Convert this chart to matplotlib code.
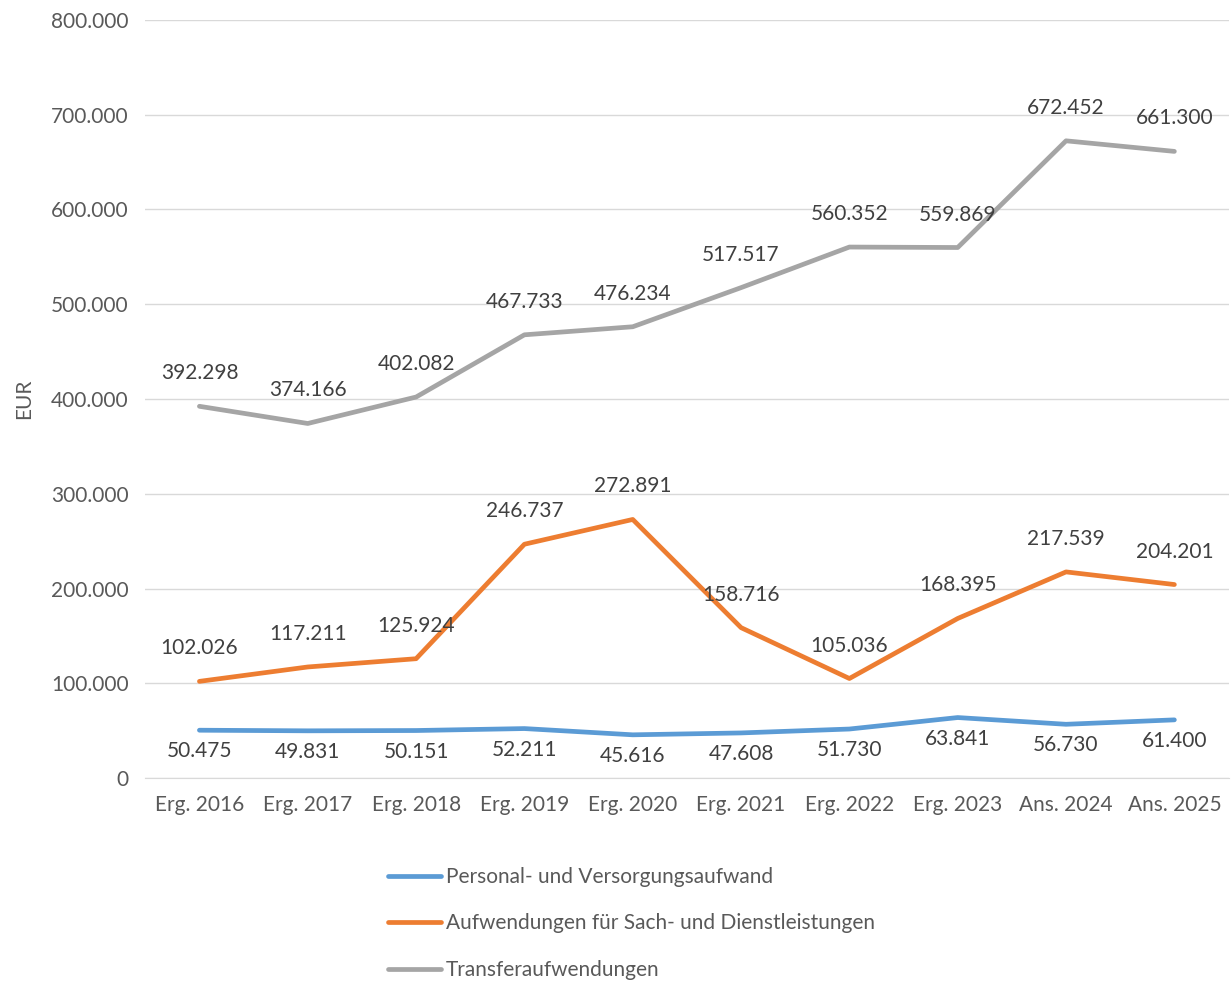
import matplotlib
matplotlib.use("Agg")
import matplotlib.pyplot as plt
from matplotlib.ticker import FuncFormatter

plt.rcParams['font.family'] = ['Lato', 'DejaVu Sans']

# Daten
kategorien = ['Erg. 2016', 'Erg. 2017', 'Erg. 2018', 'Erg. 2019', 'Erg. 2020',
              'Erg. 2021', 'Erg. 2022', 'Erg. 2023', 'Ans. 2024', 'Ans. 2025']
personal = [50475, 49831, 50151, 52211, 45616, 47608, 51730, 63841, 56730, 61400]
sach = [102026, 117211, 125924, 246737, 272891, 158716, 105036, 168395, 217539, 204201]
transfer = [392298, 374166, 402082, 467733, 476234, 517517, 560352, 559869, 672452, 661300]

namen = ['Personal- und Versorgungsaufwand',
         'Aufwendungen für Sach- und Dienstleistungen',
         'Transferaufwendungen']
farben = ['#5b9bd5', '#ed7d31', '#a5a5a5']


def fmt(v):
    return f'{v:,.0f}'.replace(',', '.')


fig = plt.figure(figsize=(12.31, 9.83), dpi=100)
ax = fig.add_axes([0.118, 0.2085, 0.88, 0.7712])

x = range(len(kategorien))
serien = [personal, sach, transfer]
versatz = [-21, 33, 33]  # Label-Abstand in Pixeln (unten / oben)

for werte, name, farbe, dy in zip(serien, namen, farben, versatz):
    ax.plot(x, werte, color=farbe, lw=3.4, label=name, solid_capstyle='round')
    for xi, v in zip(x, werte):
        ax.annotate(fmt(v), (xi, v), textcoords='offset pixels', xytext=(0, dy),
                    ha='center', va='center', fontsize=15, color='#404040')

ax.set_xlim(-0.5, len(kategorien) - 0.5)
ax.set_ylim(0, 800000)
ax.set_yticks(range(0, 800001, 100000))
ax.yaxis.set_major_formatter(FuncFormatter(lambda v, p: fmt(v)))
ax.set_xticks(list(x))
ax.set_xticklabels(kategorien)
ax.grid(axis='y', color='#d9d9d9', lw=1)
ax.set_axisbelow(True)
for s in ['top', 'right', 'left']:
    ax.spines[s].set_visible(False)
ax.spines['bottom'].set_color('#d9d9d9')
ax.tick_params(length=0, labelsize=15, colors='#595959', pad=12)
ax.set_ylabel('EUR', fontsize=15, color='#595959', labelpad=12)

fig.legend(loc='upper left', bbox_to_anchor=(0.315, 0.118), frameon=False,
           fontsize=15, labelspacing=1.27, handlelength=2.55, handletextpad=0.25,
           labelcolor='#595959', borderaxespad=0, borderpad=0)

fig.savefig('out.png', dpi=100)
